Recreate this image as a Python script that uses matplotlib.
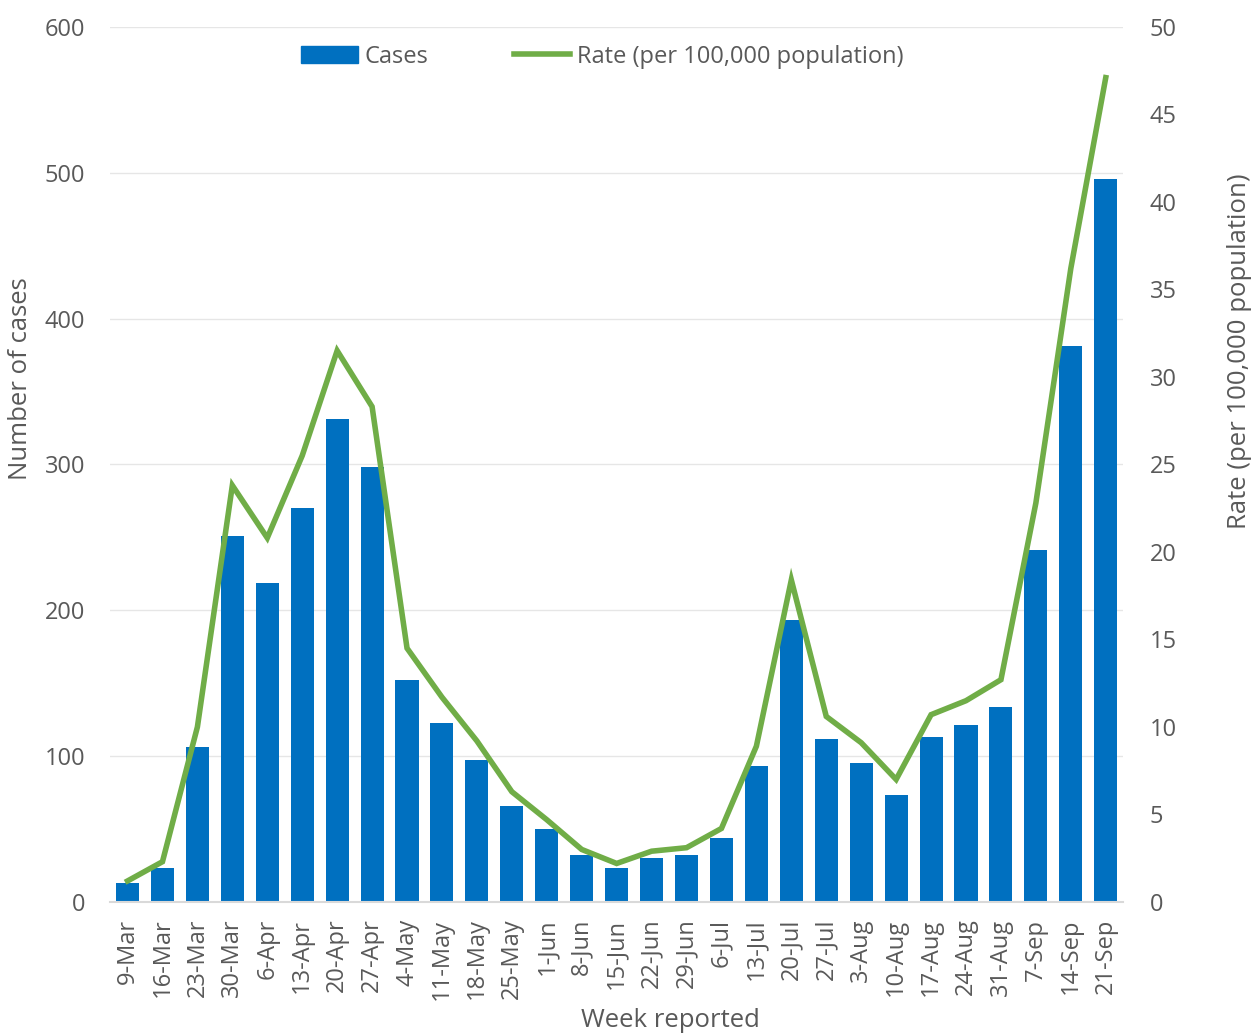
import matplotlib.pyplot as plt
from matplotlib.patches import Patch
from matplotlib.lines import Line2D

plt.rcParams["font.family"] = ["Open Sans", "DejaVu Sans"]

weeks = ["9-Mar", "16-Mar", "23-Mar", "30-Mar", "6-Apr", "13-Apr", "20-Apr", "27-Apr",
         "4-May", "11-May", "18-May", "25-May", "1-Jun", "8-Jun", "15-Jun", "22-Jun",
         "29-Jun", "6-Jul", "13-Jul", "20-Jul", "27-Jul", "3-Aug", "10-Aug", "17-Aug",
         "24-Aug", "31-Aug", "7-Sep", "14-Sep", "21-Sep"]
cases = [13, 23, 106, 251, 219, 270, 331, 298, 152, 123, 97, 66, 50, 32, 23, 30,
         32, 44, 93, 193, 112, 95, 73, 113, 121, 134, 241, 381, 496]
rate = [1.2, 2.3, 10.0, 23.8, 20.8, 25.5, 31.5, 28.3, 14.5, 11.7, 9.2, 6.3, 4.7, 3.0,
        2.2, 2.9, 3.1, 4.2, 8.9, 18.4, 10.6, 9.1, 7.0, 10.7, 11.5, 12.7, 22.8, 36.2, 47.1]

blue = "#0070C0"
green = "#70AD47"
grey = "#595959"

fig = plt.figure(figsize=(12.55, 10.34), dpi=100)
ax = fig.add_axes([0.0877, 0.1277, 0.8073, 0.8463])
ax2 = ax.twinx()

x = list(range(len(weeks)))
ax.bar(x, cases, width=0.66, color=blue, zorder=2)
ax2.plot(x, rate, color=green, linewidth=4, solid_joinstyle="miter", zorder=3)

ax.set_xlim(-0.5, len(weeks) - 0.5)
ax.set_ylim(0, 600)
ax.set_yticks(range(0, 601, 100))
ax2.set_ylim(0, 50)
ax2.set_yticks(range(0, 51, 5))

ax.set_xticks(x)
ax.set_xticklabels(weeks, rotation=90)
ax.grid(axis="y", color="#e6e6e6", linewidth=1, zorder=0)
ax.set_axisbelow(True)

for a in (ax, ax2):
    for s in a.spines.values():
        s.set_visible(False)
    a.tick_params(length=0, labelsize=17, labelcolor=grey)
ax.spines["bottom"].set_visible(True)
ax.spines["bottom"].set_color("#d9d9d9")
ax.spines["bottom"].set_linewidth(1.5)
ax.tick_params(axis="x", pad=12)
ax.tick_params(axis="y", pad=18)
ax2.tick_params(axis="y", pad=19)

ax.set_xlabel("Week reported", fontsize=18.5, color=grey)
ax.xaxis.set_label_coords(0.553, -0.121)
ax.set_ylabel("Number of cases", fontsize=18.5, color=grey)
ax.yaxis.set_label_coords(-0.076, 0.598)
ax2.set_ylabel("Rate (per 100,000 population)", fontsize=18.5, color=grey)
ax2.yaxis.set_label_coords(1.102, 0.629)

ax2.set_zorder(ax.get_zorder() + 1)
ax2.patch.set_visible(False)

handles = [Patch(color=blue, label="Cases"),
           Line2D([0], [0], color=green, linewidth=4, label="Rate (per 100,000 population)")]
ax2.legend(handles=handles, loc="center", bbox_to_anchor=(0.486, 0.966), ncol=2,
           frameon=False, fontsize=17, labelcolor=grey, handlelength=2.4,
           handletextpad=0.3, columnspacing=3.6)

fig.savefig("out.png", dpi=100)
